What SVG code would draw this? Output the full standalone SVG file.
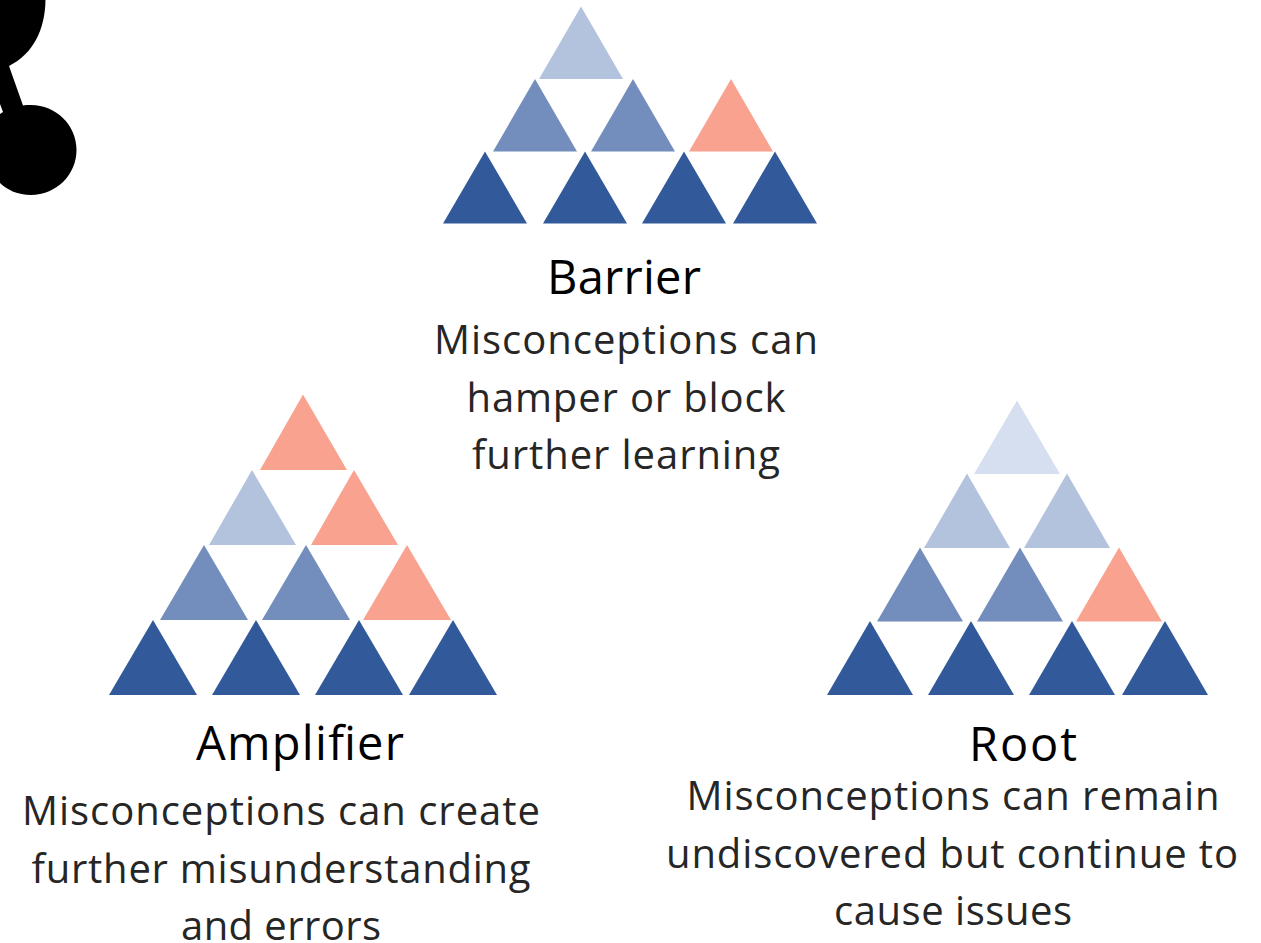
<svg xmlns="http://www.w3.org/2000/svg" width="1261" height="943" viewBox="0 0 1261 943">
<style>
.a{fill:#325a9a}.b{fill:#738ebc}.c{fill:#b3c3de}.d{fill:#d6dff0}.r{fill:#f9a28f}
text{font-family:"Open Sans","Noto Sans",sans-serif;text-anchor:middle;fill:#262626;font-size:40px}
.h{fill:#000;font-size:47px}
</style>
<rect width="1261" height="943" fill="#fff"/>
<g id="logo">
<path d="M0 0H45.500C45 30 33 54 9 66L23 105.500C25 105 28 105 31 105C56 105 76.500 125 76.500 150C76.500 175 56 195 31 195C18 195 7 190 0 183V114L3 112L0 104Z" fill="#000"/>
</g>
<g id="barrier">
<polygon class="c" points="581,6.500 623,79 539,79"/>
<polygon class="b" points="535,79 577,151.500 493,151.500"/>
<polygon class="b" points="633,79 675,151.500 591,151.500"/>
<polygon class="r" points="731,79 773,151.500 689,151.500"/>
<polygon class="a" points="485,151.500 527,223.500 443,223.500"/>
<polygon class="a" points="585,151.500 627,223.500 543,223.500"/>
<polygon class="a" points="684,151.500 726,223.500 642,223.500"/>
<polygon class="a" points="775,151.500 817,223.500 733,223.500"/>
<text class="h" x="624" y="294" textLength="154" lengthAdjust="spacing">Barrier</text>
<text x="626" y="354" textLength="384" lengthAdjust="spacing">Misconceptions can</text>
<text x="626" y="412" textLength="319" lengthAdjust="spacing">hamper or block</text>
<text x="626" y="469" textLength="308" lengthAdjust="spacing">further learning</text>
</g>
<g id="amplifier">
<polygon class="r" points="303,394.500 347,470 260,470"/>
<polygon class="c" points="252,470 296,545 209,545"/>
<polygon class="r" points="354,470 398,545 311,545"/>
<polygon class="b" points="204,545 248,620 160,620"/>
<polygon class="b" points="306,545 350,620 262,620"/>
<polygon class="r" points="407,545 451,620 363,620"/>
<polygon class="a" points="153,620 197,695 109,695"/>
<polygon class="a" points="256,620 300,695 212,695"/>
<polygon class="a" points="359,620 403,695 315,695"/>
<polygon class="a" points="453,620 497,695 409,695"/>
<text class="h" x="300" y="760" textLength="208" lengthAdjust="spacing">Amplifier</text>
<text x="281" y="825" textLength="518" lengthAdjust="spacing">Misconceptions can create</text>
<text x="281" y="883" textLength="499" lengthAdjust="spacing">further misunderstanding</text>
<text x="281" y="940" textLength="200" lengthAdjust="spacing">and errors</text>
</g>
<g id="root">
<polygon class="d" points="1017,400.500 1060,474 974,474"/>
<polygon class="c" points="967,473.500 1010,548 924,548"/>
<polygon class="c" points="1067,473.500 1110,548 1024,548"/>
<polygon class="b" points="920,547.500 963,621.500 877,621.500"/>
<polygon class="b" points="1020,547.500 1063,621.500 977,621.500"/>
<polygon class="r" points="1119,547.500 1162,621.500 1076,621.500"/>
<polygon class="a" points="870,621 913,695 827,695"/>
<polygon class="a" points="971,621 1014,695 928,695"/>
<polygon class="a" points="1072,621 1115,695 1029,695"/>
<polygon class="a" points="1165,621 1208,695 1122,695"/>
<text class="h" x="1023" y="761" textLength="108" lengthAdjust="spacing">Root</text>
<text x="953" y="810" textLength="533" lengthAdjust="spacing">Misconceptions can remain</text>
<text x="952" y="868" textLength="572" lengthAdjust="spacing">undiscovered but continue to</text>
<text x="953" y="925" textLength="238" lengthAdjust="spacing">cause issues</text>
</g>
</svg>
